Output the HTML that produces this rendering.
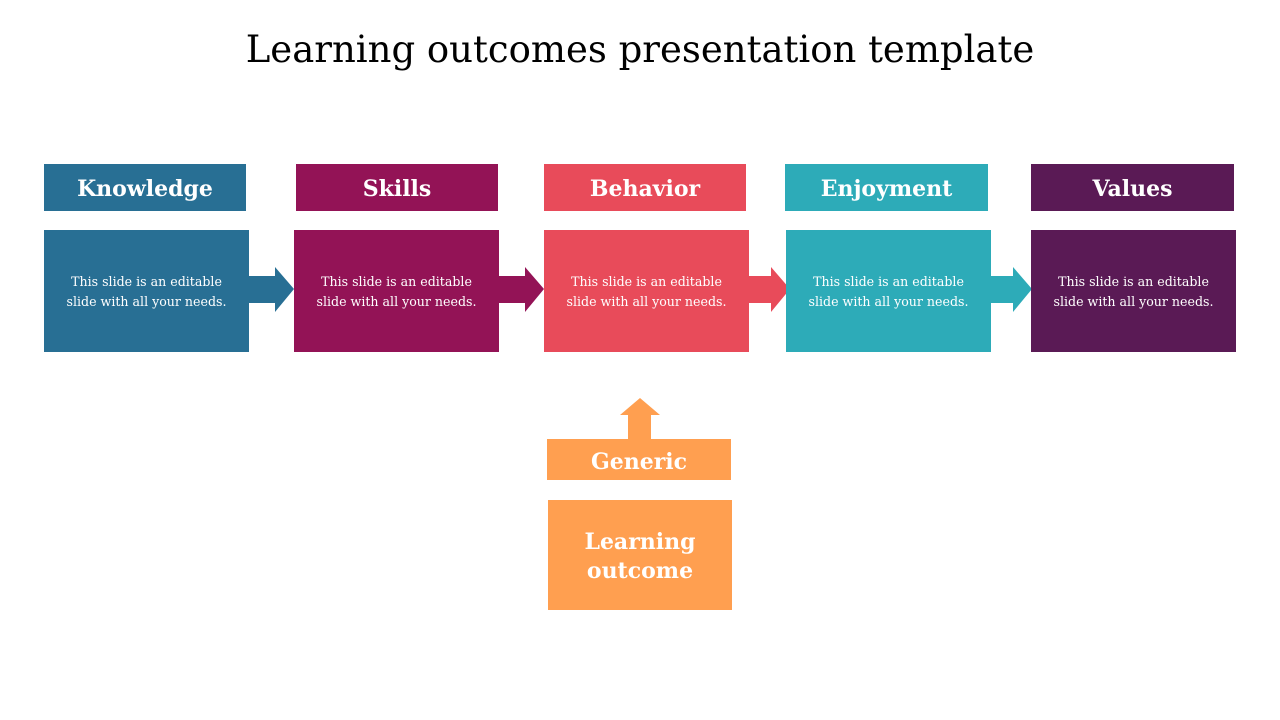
<!DOCTYPE html>
<html><head><style>
body{margin:0;width:1280px;height:720px;background:#fff;position:relative;overflow:hidden;font-family:"DejaVu Serif","Liberation Serif",serif}
.a{position:absolute;display:flex;align-items:center;justify-content:center;text-align:center;color:#fff}
.h{font-weight:bold;font-size:22px;height:47px;top:164px;padding-top:3px;box-sizing:border-box}
.b{font-size:12.6px;line-height:20px;height:122px;top:230px;width:205px;padding-top:2px;box-sizing:border-box}
</style></head><body>
<div class="a" style="left:0;width:1280px;top:22px;height:54px;color:#000;font-size:37px">Learning outcomes presentation template</div>
<svg width="1280" height="720" style="position:absolute;left:0;top:0">
<polygon points="248,276 275,276 275,267 294,289 275,312 275,303 248,303" fill="#286F94"/>
<polygon points="498,276 525,276 525,267 544,289 525,312 525,303 498,303" fill="#931356"/>
<polygon points="748,276 771,276 771,267 790,289 771,312 771,303 748,303" fill="#E84B5A"/>
<polygon points="990,276 1013,276 1013,267 1032,289 1013,312 1013,303 990,303" fill="#2DABB8"/>
<polygon points="628,440 628,415 620,415 640,398 660,415 651,415 651,440" fill="#FF9F50"/>
</svg>
<div class="a h" style="left:44px;width:202px;background:#286F94">Knowledge</div>
<div class="a h" style="left:296px;width:202px;background:#931356">Skills</div>
<div class="a h" style="left:544px;width:202px;background:#E84B5A">Behavior</div>
<div class="a h" style="left:785px;width:203px;background:#2DABB8">Enjoyment</div>
<div class="a h" style="left:1031px;width:203px;background:#5A1A55">Values</div>
<div class="a b" style="left:44px;background:#286F94">This slide is an editable<br>slide with all your needs.</div>
<div class="a b" style="left:294px;background:#931356">This slide is an editable<br>slide with all your needs.</div>
<div class="a b" style="left:544px;background:#E84B5A">This slide is an editable<br>slide with all your needs.</div>
<div class="a b" style="left:786px;background:#2DABB8">This slide is an editable<br>slide with all your needs.</div>
<div class="a b" style="left:1031px;background:#5A1A55">This slide is an editable<br>slide with all your needs.</div>
<div class="a" style="left:547px;top:439px;width:184px;height:41px;background:#FF9F50;font-weight:bold;font-size:22px;padding-top:4px;box-sizing:border-box">Generic</div>
<div class="a" style="left:548px;top:500px;width:184px;height:110px;background:#FF9F50;font-weight:bold;font-size:22px;line-height:29px;padding-top:3px;box-sizing:border-box">Learning<br>outcome</div>
</body></html>
